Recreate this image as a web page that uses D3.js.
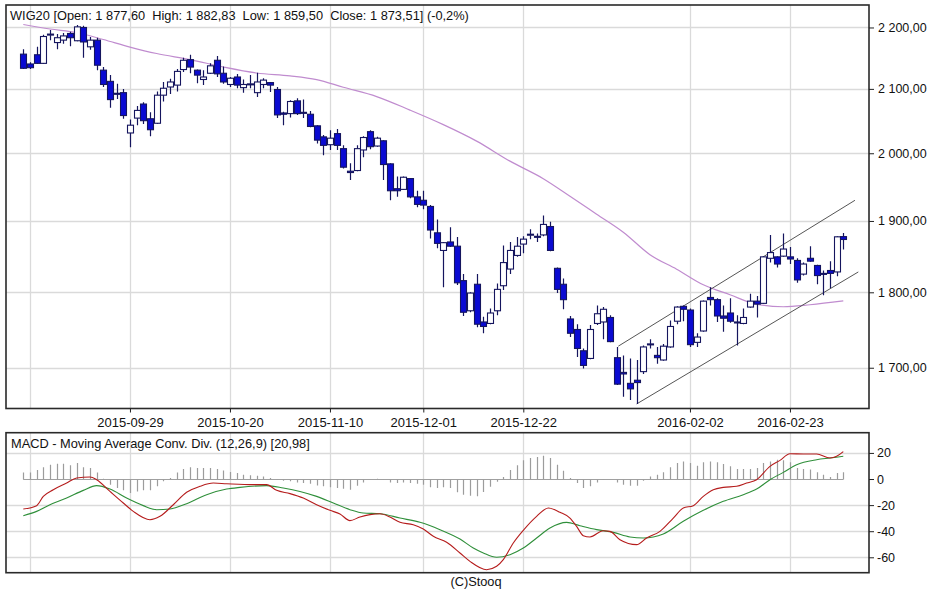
<!DOCTYPE html>
<html><head><meta charset="utf-8">
<script src="https://cdn.jsdelivr.net/npm/d3@7"></script>
<style>
body{margin:0;background:#fff}
svg{display:block}
text{font-family:Arial,"Liberation Sans",sans-serif}
</style>
</head><body>
<svg id="c" width="948" height="593"></svg>
<script>
// ---------------- DATA ----------------
const dates = [
"2015-09-07","2015-09-08","2015-09-09","2015-09-10","2015-09-11","2015-09-14","2015-09-15","2015-09-16","2015-09-17","2015-09-18",
"2015-09-21","2015-09-22","2015-09-23","2015-09-24","2015-09-25","2015-09-28","2015-09-29","2015-09-30",
"2015-10-01","2015-10-02","2015-10-05","2015-10-06","2015-10-07","2015-10-08","2015-10-09","2015-10-12","2015-10-13","2015-10-14",
"2015-10-15","2015-10-16","2015-10-19","2015-10-20","2015-10-21","2015-10-22","2015-10-23","2015-10-26","2015-10-27","2015-10-28",
"2015-10-29","2015-10-30",
"2015-11-02","2015-11-03","2015-11-04","2015-11-05","2015-11-06","2015-11-09","2015-11-10","2015-11-12","2015-11-13","2015-11-16",
"2015-11-17","2015-11-18","2015-11-19","2015-11-20","2015-11-23","2015-11-24","2015-11-25","2015-11-26","2015-11-27","2015-11-30",
"2015-12-01","2015-12-02","2015-12-03","2015-12-04","2015-12-07","2015-12-08","2015-12-09","2015-12-10","2015-12-11","2015-12-14",
"2015-12-15","2015-12-16","2015-12-17","2015-12-18","2015-12-21","2015-12-22","2015-12-23","2015-12-28","2015-12-29","2015-12-30",
"2016-01-04","2016-01-05","2016-01-07","2016-01-08","2016-01-11","2016-01-12","2016-01-13","2016-01-14","2016-01-15","2016-01-18",
"2016-01-19","2016-01-20","2016-01-21","2016-01-22","2016-01-25","2016-01-26","2016-01-27","2016-01-28","2016-01-29",
"2016-02-01","2016-02-02","2016-02-03","2016-02-04","2016-02-05","2016-02-08","2016-02-09","2016-02-10","2016-02-11","2016-02-12",
"2016-02-15","2016-02-16","2016-02-17","2016-02-18","2016-02-19","2016-02-22","2016-02-23","2016-02-24","2016-02-25","2016-02-26",
"2016-02-29","2016-03-01","2016-03-02","2016-03-03","2016-03-04"];

const open = [2156,2140,2155,2141,2188,2175,2179,2190,2178,2200,2168,2179,2130,2112,2093,2094,2031,2054,2076,2053,
2046,2090,2103,2106,2131,2147,2130,2115,2125,2146,2125,2107,2119,2102,2107,2094,2107,2110,2099,2062,
2061,2081,2063,2060,2042,2025,2013,2030,2007,1973,1974,2005,2033,2011,2019,1984,1947,1946,1962,1935,
1930,1921,1883,1858,1870,1864,1816,1775,1811,1760,1758,1775,1809,1832,1851,1867,1880,1878,1880,1892,
1833,1811,1764,1750,1722,1712,1758,1760,1766,1713,1694,1680,1684,1695,1730,1716,1710,1727,1761,1781,
1776,1733,1748,1793,1790,1768,1772,1760,1758,1780,1788,1785,1847,1849,1850,1849,1844,1825,1847,1837,
1826,1830,1828,1877.60];
const high = [2164,2143,2168,2188,2196,2189,2191,2193,2204,2203,2184,2183,2135,2122,2108,2100,2052,2073,2079,2063,
2096,2111,2116,2132,2150,2155,2131,2130,2141,2153,2136,2119,2124,2115,2122,2126,2117,2111,2103,2064,
2082,2085,2083,2065,2043,2028,2035,2037,2012,1985,2012,2026,2035,2025,2020,1985,1965,1965,1963,1944,
1944,1923,1902,1870,1891,1877,1825,1800,1825,1767,1778,1812,1865,1870,1877,1878,1888,1882,1908,1899,
1834,1819,1768,1757,1725,1756,1782,1780,1769,1727,1716,1712,1710,1729,1737,1727,1731,1762,1781,1782,
1778,1745,1789,1807,1792,1782,1792,1769,1778,1798,1795,1850,1880,1850,1882,1863,1847,1841,1864,1838,
1830,1843,1878,1882.83];
const low = [2132,2132,2140,2140,2179,2164,2173,2169,2177,2150,2163,2130,2103,2070,2084,2053,2009,2043,2045,2026,
2045,2080,2092,2096,2127,2125,2109,2106,2124,2119,2108,2103,2101,2094,2101,2087,2101,2095,2054,2043,
2055,2059,2054,2040,2015,1997,2005,2005,1977,1960,1973,1994,2006,2010,1960,1930,1935,1945,1933,1920,
1917,1875,1861,1807,1863,1810,1768,1773,1753,1745,1757,1769,1803,1825,1849,1854,1874,1870,1878,1857,
1799,1777,1740,1714,1699,1711,1756,1737,1733,1678,1663,1659,1654,1692,1725,1705,1709,1726,1757,1761,
1727,1727,1747,1782,1760,1747,1759,1729,1757,1779,1766,1784,1841,1834,1849,1839,1813,1823,1842,1811,
1796,1806,1822,1859.50];
const close = [2133,2134,2141,2185,2189,2183,2186,2183,2201,2176,2179,2138,2107,2083,2092,2058,2043,2066,2050,2036,
2090,2101,2111,2128,2146,2135,2122,2119,2137,2124,2111,2117,2106,2107,2108,2111,2114,2106,2059,2060,
2080,2061,2062,2041,2020,2012,2023,2012,1979,1971,2007,2024,2010,2023,1983,1944,1944,1964,1935,1924,
1923,1887,1868,1869,1864,1813,1773,1799,1757,1754,1772,1804,1841,1858,1864,1874,1881,1877,1895,1858,
1804,1790,1745,1725,1703,1750,1771,1777,1734,1679,1692,1673,1681,1727,1731,1713,1728,1754,1780,1777,
1730,1740,1788,1790,1768,1765,1761,1759,1766,1788,1784,1849,1855,1839,1860,1846,1817,1839,1843,1823,
1825,1826,1877.3,1873.51];

// moving average (purple) read at sampled bars
const maIdx = [0,4,8,12,16,20,25,30,35,40,44,48,53,58,63,68,73,78,82,86,90,94,98,102,106,110,114,118,123];
const maVal = [2205,2197.5,2191.6,2180,2167.6,2157,2147.2,2135.1,2125.4,2120.9,2114.9,2102.6,2087.8,2066.5,2043.9,
2018.5,1988.1,1961.9,1936,1909.8,1883.9,1852,1831.8,1810.3,1796.7,1783.8,1780.4,1783.1,1788.3];

// trend channel anchors (bar index, price)
const upperIdx = [89.25,124.75], upperVal = [1728,1930];
const lowerIdx = [92,125.25],   lowerVal = [1654,1828];

// MACD line (red) and signal (green), sampled
const macdIdx = [0,2,3,4.5,6.5,8,10,11,13,15,16.5,19,20.5,22.5,24.5,26.5,28.5,30.5,34.5,36.5,38,40,42,44,46,47.5,49,50.5,52,53.5,55,56.5,58.5,60,61.5,63.5,65.5,67,69.5,71,72,73.5,75,77,78.75,80.5,82,83,84,85,87,88,89.5,92,93.5,95.5,97.5,99,100.5,102,103.5,105,107,108.5,110,112,113.5,115,117,119,121,122,123];
const macdVal = [-23,-20.4,-13.3,-8.2,-3.1,0.8,1.5,-0.5,-9.5,-18.4,-24.8,-31.2,-28.6,-19.7,-10.2,-5.6,-3.1,-3.6,-4.3,-4.3,-8.7,-11.2,-14.6,-19.7,-24,-26.8,-31.9,-29.1,-27.3,-26.6,-29.1,-33.2,-35,-38.3,-43.9,-48.5,-56.7,-63.1,-69.5,-66.9,-61.8,-49,-39.3,-28.6,-22.2,-25.5,-29.9,-36.3,-43.4,-44.4,-39.6,-40.1,-46.5,-50.3,-45.2,-40.1,-29.9,-22.2,-20.4,-13.3,-8.2,-6.4,-5.6,-3.1,-0.5,9.7,14.3,19.4,19.2,19.2,16.1,17.4,20.98];
const sigIdx = [0,2,4,6.5,9,11,13,15.5,18,20,22,24.5,27.5,30.5,32.5,36.5,39,41.5,44,46.5,49,51,53.5,56.5,59.5,62.5,65.5,67.5,69,71,73,75,77,79,81.5,83.5,86,88.5,91,93,96,99,102,105,108,110,112,114,116,119,121,123];
const sigVal = [-28.1,-24.8,-19.7,-14.6,-8.7,-5.1,-7.7,-14.6,-20.4,-23.5,-23,-18.9,-12,-7.7,-6.4,-5.1,-6.9,-9.5,-13.3,-18.4,-23.5,-26.1,-26.6,-29.9,-33.2,-38.8,-46,-52.9,-56.7,-60,-58,-52.9,-45.2,-37.5,-33.2,-35.8,-38.8,-40.9,-44.4,-45.2,-42.1,-32.4,-24,-17.1,-12,-7.7,-0.5,5.1,11,14.8,16.1,17.4];
// histogram, one value per bar
const hist = [5,5,7,9,11,11.7,11.7,10.5,12.3,9,8.4,5,0.3,-4.3,-6.9,-8.7,-10.7,-9.5,-8.7,-8.7,
-5.6,-1.8,0.8,5,7.7,9,8.4,8.4,8.4,7.7,6.6,5.4,4.6,3.3,2.8,2.6,2,0.8,0,-1.3,
-1.8,-2.6,-3.1,-3.6,-4.9,-5.6,-6.4,-6.9,-7.4,-8.2,-5.1,-2.6,-0.5,0.3,-0.5,-2.6,-3.1,-2.6,-3.1,-3.6,
-4.3,-6.4,-6.9,-6.4,-6.9,-10.2,-12,-12.8,-13.3,-10,-6,-2,1.5,7,10.5,14.3,16.1,16.9,17.9,16.1,
11,6.4,0.8,-3.1,-6.9,-5.6,-2.6,0,-0.5,-2.6,-4.3,-5.1,-5.1,-1.3,2,3.3,5.1,9,12.3,13.5,
12.3,10.2,12.8,13.5,12.8,11.5,9.7,7.7,7.7,7.7,8.4,12.3,13.5,14.8,14.3,12.8,8.4,7.7,7.2,5.1,
3.3,1.5,4.6,5.1];

const priceTicks = [1700,1800,1900,2000,2100,2200];
const macdTicks = [20,0,-20,-40,-60];
const dateLabels = ["2015-09-29","2015-10-20","2015-11-10","2015-12-01","2015-12-22","2016-02-02","2016-02-23"];
const gridDates = ["2015-09-08","2015-09-29","2015-10-20","2015-11-10","2015-12-01","2015-12-22","2016-02-02","2016-02-23"];

// ---------------- LAYOUT ----------------
const svg = d3.select("#c");
const M = {l:6, r:869, t:5, b:408.5};
const P = {l:6, r:869, t:432.7, b:572.7};
const x = d3.scaleLinear().domain([0, dates.length-1]).range([23.3, 843.3]);
const y = d3.scaleLog().domain([1648.3, 2237.8]).range([M.b, M.t]);
const ym = d3.scaleLinear().domain([-71.8, 35.5]).range([P.b, P.t]);
const loc = d3.formatLocale({decimal:",", thousands:" ", grouping:[3], currency:["",""], minus:"-"});
const fmt2 = loc.format(",.2f"), fmt1 = loc.format(".1f"), fmt0 = loc.format("d");
const px = v => Math.round(v) + 0.5;

const GRID = "#dadada";
svg.append("rect").attr("width",948).attr("height",593).attr("fill","#fff");

const defs = svg.append("defs");
defs.append("clipPath").attr("id","cm").append("rect").attr("x",M.l).attr("y",M.t).attr("width",M.r-M.l).attr("height",M.b-M.t);
defs.append("clipPath").attr("id","cp").append("rect").attr("x",P.l).attr("y",P.t).attr("width",P.r-P.l).attr("height",P.b-P.t);

const gi = gridDates.map(d => dates.indexOf(d));

// main grid
const gm = svg.append("g");
gm.selectAll(".hg").data(priceTicks).join("line")
  .attr("x1",M.l).attr("x2",M.r).attr("y1",d=>px(y(d))).attr("y2",d=>px(y(d)))
  .attr("stroke",GRID).attr("stroke-width",1.3);
gm.selectAll(".vg").data(gi).join("line")
  .attr("x1",d=>px(x(d))).attr("x2",d=>px(x(d))).attr("y1",M.t).attr("y2",M.b)
  .attr("stroke",GRID).attr("stroke-width",1.3);

// macd grid
const gp = svg.append("g");
gp.selectAll(".hg").data(macdTicks.filter(d=>d!==0)).join("line")
  .attr("x1",P.l).attr("x2",P.r).attr("y1",d=>px(ym(d))).attr("y2",d=>px(ym(d)))
  .attr("stroke",GRID).attr("stroke-width",1.3);
gp.selectAll(".vg").data(gi).join("line")
  .attr("x1",d=>px(x(d))).attr("x2",d=>px(x(d))).attr("y1",P.t).attr("y2",P.b)
  .attr("stroke",GRID).attr("stroke-width",1.3);

// ---------------- MAIN PANEL ----------------
const main = svg.append("g").attr("clip-path","url(#cm)");

// moving average
main.append("path")
  .attr("d", d3.line().x(d=>x(d[0])).y(d=>y(d[1])).curve(d3.curveMonotoneX)(maIdx.map((d,i)=>[d,maVal[i]])))
  .attr("fill","none").attr("stroke","#c08ccf").attr("stroke-width",1.2);

// channel lines
[[upperIdx,upperVal],[lowerIdx,lowerVal]].forEach(([ii,vv])=>{
  main.append("line")
    .attr("x1",x(ii[0])).attr("y1",y(vv[0])).attr("x2",x(ii[1])).attr("y2",y(vv[1]))
    .attr("stroke","#555").attr("stroke-width",1);
});

// candles
const bars = dates.map((d,i)=>({i, o:open[i], h:high[i], l:low[i], c:close[i]}));
const NAVY = "#15155e", BLUE = "#0a0ad2";
const cg = main.selectAll(".cd").data(bars).join("g");
cg.append("line")
  .attr("x1",d=>px(x(d.i))).attr("x2",d=>px(x(d.i)))
  .attr("y1",d=>y(d.h)).attr("y2",d=>y(d.l))
  .attr("stroke",NAVY).attr("stroke-width",1.2);
cg.append("rect")
  .attr("x",d=>px(x(d.i))-3)
  .attr("width",6)
  .attr("y",d=>Math.min(y(d.o),y(d.c)))
  .attr("height",d=>Math.max(1,Math.abs(y(d.o)-y(d.c))))
  .attr("fill",d=>d.c<d.o?BLUE:"#fff")
  .attr("stroke",NAVY).attr("stroke-width",1.1);

// ---------------- MACD PANEL ----------------
const mp = svg.append("g").attr("clip-path","url(#cp)");
mp.append("line").attr("x1",x(0)).attr("x2",x(dates.length-1))
  .attr("y1",px(ym(0))).attr("y2",px(ym(0))).attr("stroke","#a0a0a0").attr("stroke-width",1);
mp.selectAll(".hb").data(hist).join("line")
  .attr("x1",(d,i)=>px(x(i))).attr("x2",(d,i)=>px(x(i)))
  .attr("y1",px(ym(0))).attr("y2",d=>ym(d))
  .attr("stroke","#9c9c9c").attr("stroke-width",1.2);
mp.append("path")
  .attr("d", d3.line().x(d=>x(d[0])).y(d=>ym(d[1])).curve(d3.curveMonotoneX)(sigIdx.map((d,i)=>[d,sigVal[i]])))
  .attr("fill","none").attr("stroke","#2f8f3a").attr("stroke-width",1.1);
mp.append("path")
  .attr("d", d3.line().x(d=>x(d[0])).y(d=>ym(d[1])).curve(d3.curveMonotoneX)(macdIdx.map((d,i)=>[d,macdVal[i]])))
  .attr("fill","none").attr("stroke","#b51c1c").attr("stroke-width",1.1);

// ---------------- BORDERS & AXES ----------------
svg.append("rect").attr("x",M.l).attr("y",M.t).attr("width",M.r-M.l).attr("height",M.b-M.t)
  .attr("fill","none").attr("stroke","#2a2a2a").attr("stroke-width",1.6);
svg.append("rect").attr("x",P.l).attr("y",P.t).attr("width",P.r-P.l).attr("height",P.b-P.t)
  .attr("fill","none").attr("stroke","#2a2a2a").attr("stroke-width",1.6);

function styleAxis(size){
  return g => {
    g.select(".domain").remove();
    g.selectAll("line").attr("stroke","#222");
    g.selectAll("text").attr("font-family","Arial, 'Liberation Sans', sans-serif").attr("font-size",size).attr("fill","#111");
  };
}
svg.append("g").attr("transform",`translate(${M.r},0)`)
  .call(d3.axisRight(y).tickValues(priceTicks).tickFormat(fmt2).tickSize(5).tickPadding(4))
  .call(styleAxis(12.5));
svg.append("g").attr("transform",`translate(${P.r},0)`)
  .call(d3.axisRight(ym).tickValues(macdTicks).tickFormat(fmt0).tickSize(5).tickPadding(3))
  .call(styleAxis(12.5));
svg.append("g").attr("transform",`translate(0,${M.b})`)
  .call(d3.axisBottom(x).tickValues(dateLabels.map(d=>dates.indexOf(d))).tickFormat(i=>dates[i]).tickSize(4).tickPadding(5))
  .call(styleAxis(13));

// ---------------- TEXTS ----------------
const n = dates.length-1;
const chg = (close[n]-close[n-1])/close[n-1]*100;
svg.append("text").attr("x",10).attr("y",20).attr("font-size",12.8).attr("fill","#111")
  .style("white-space","pre")
  .text(`WIG20 [Open: ${fmt2(open[n])}  High: ${fmt2(high[n])}  Low: ${fmt2(low[n])}  Close: ${fmt2(close[n])}] (${fmt1(chg)}%)`);
svg.append("text").attr("x",11).attr("y",448).attr("font-size",12.8).attr("fill","#111")
  .text(`MACD - Moving Average Conv. Div. (12,26,9) [${fmt2(macdVal[macdVal.length-1])}]`);
svg.append("text").attr("x",476).attr("y",586).attr("font-size",12.8).attr("fill","#111")
  .attr("text-anchor","middle").text("(C)Stooq");
</script>
</body></html>
